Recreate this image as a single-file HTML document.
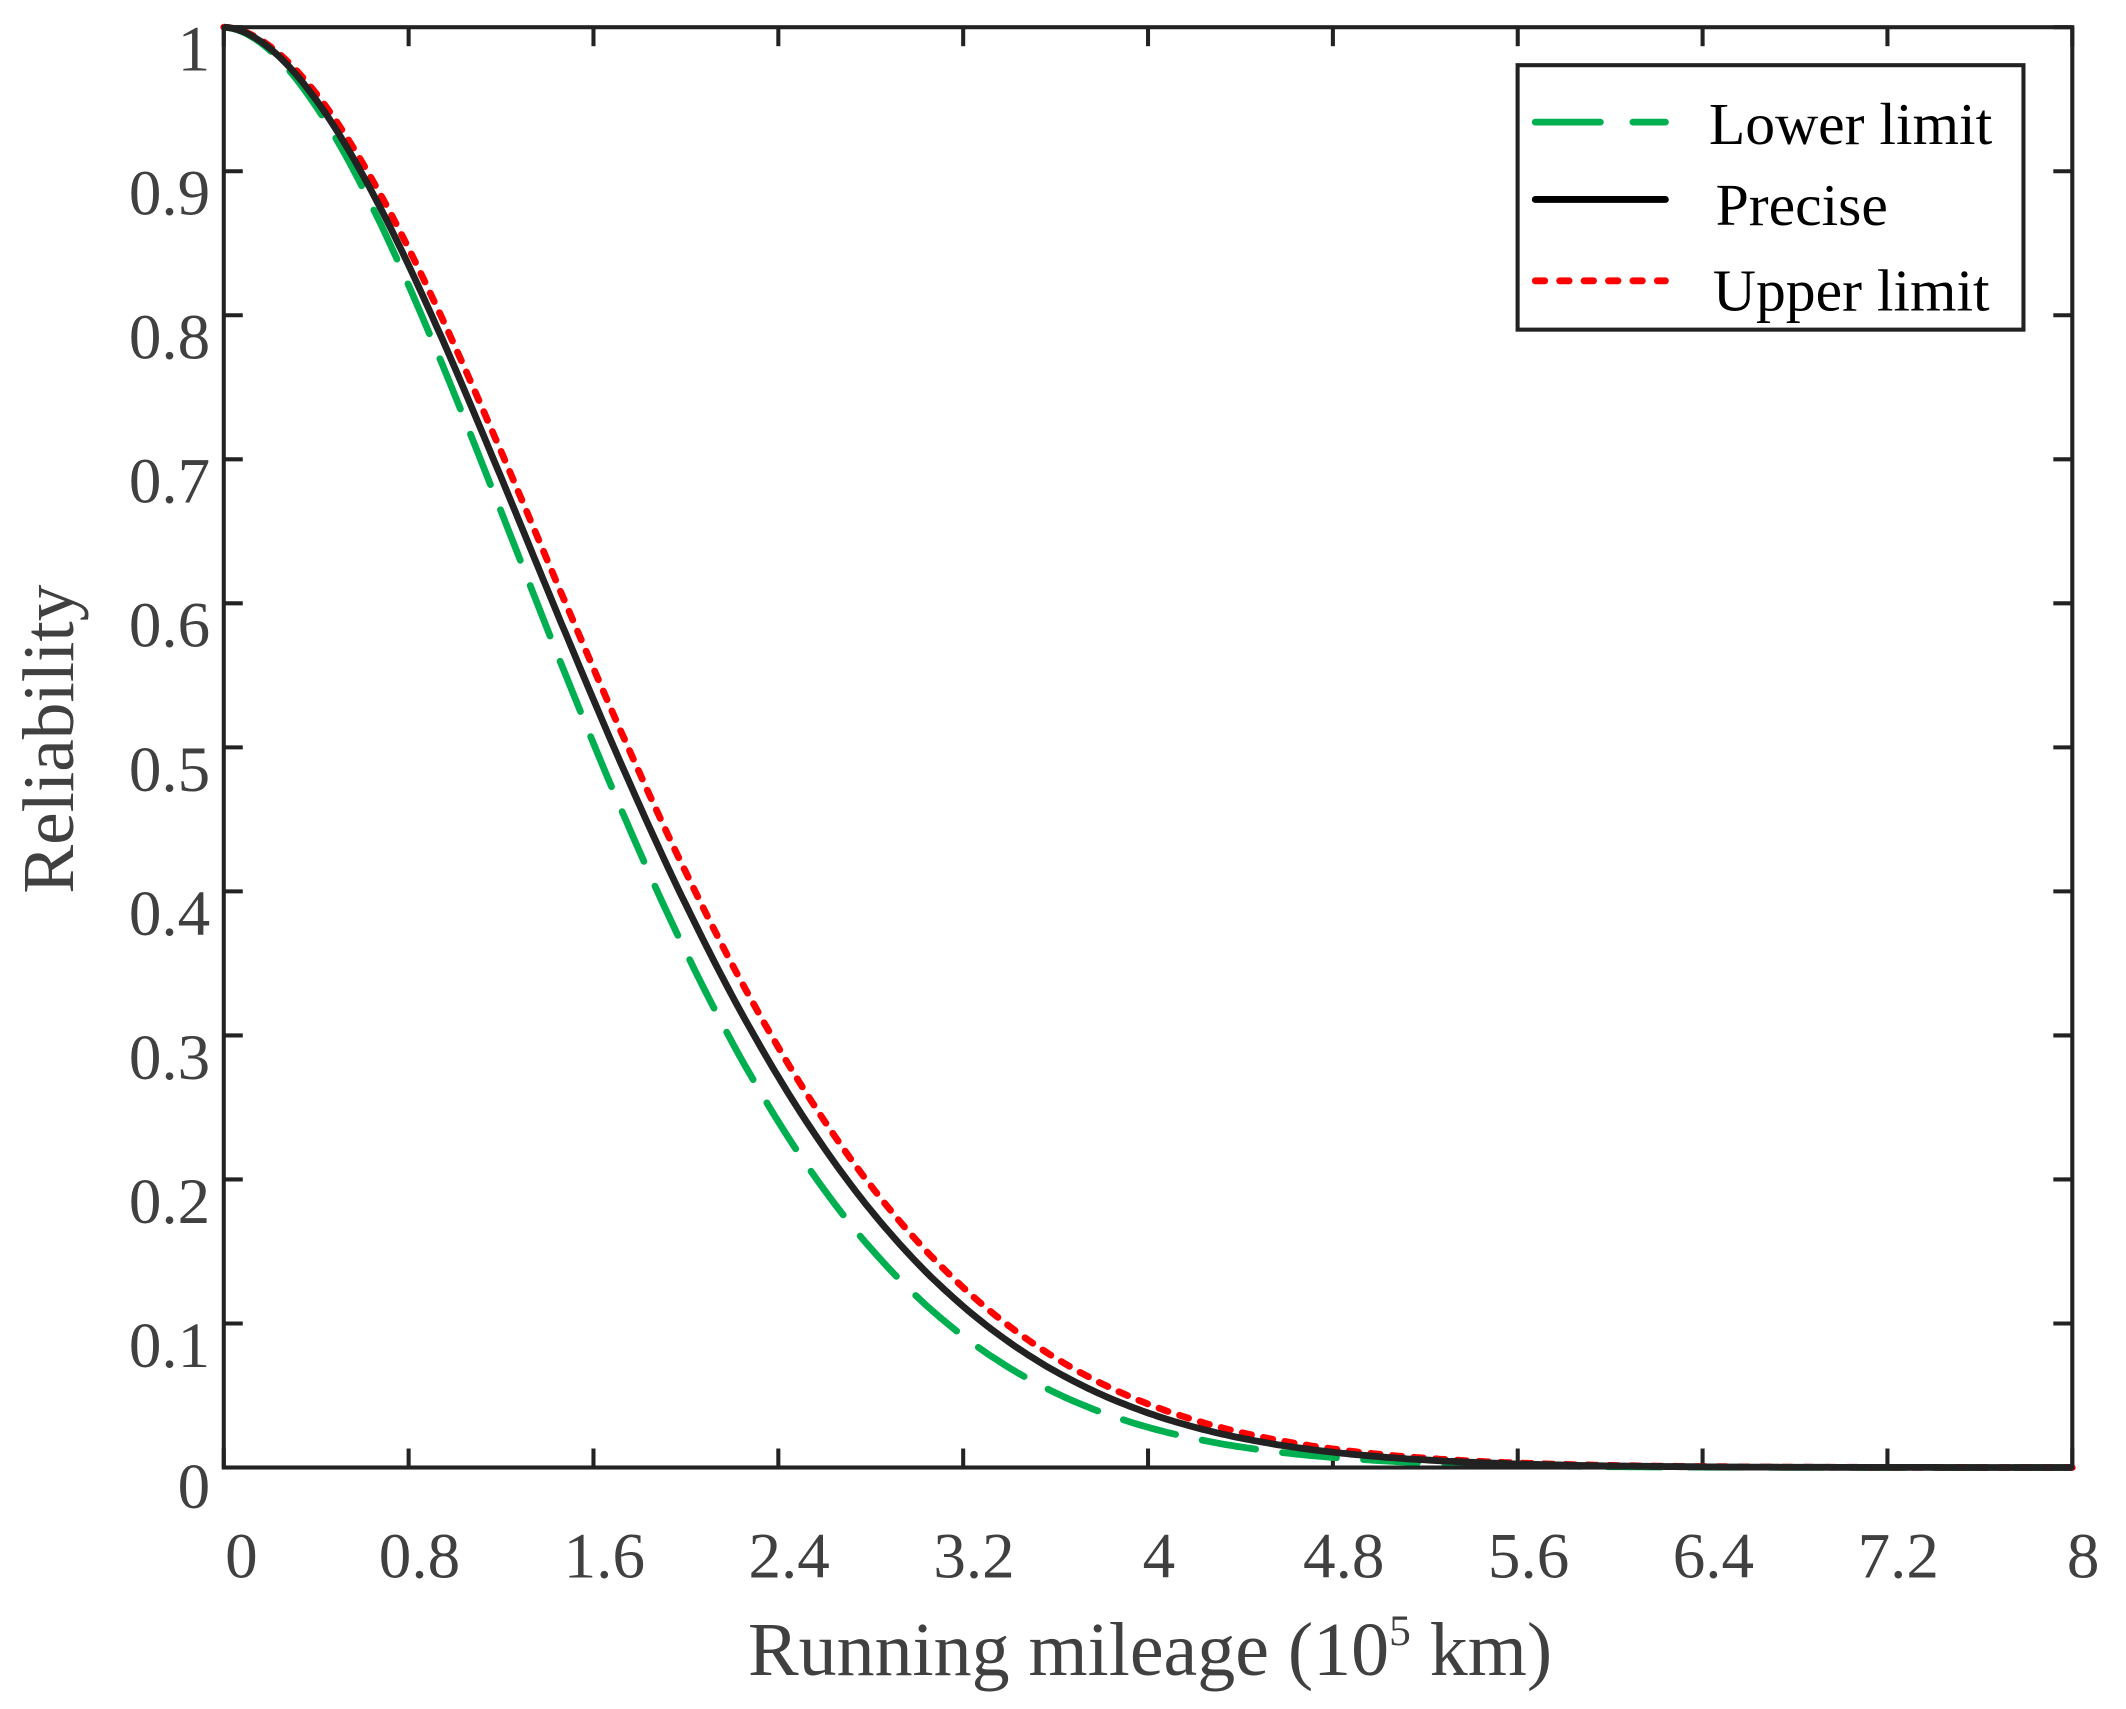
<!DOCTYPE html>
<html><head><meta charset="utf-8"><style>
html,body{margin:0;padding:0;background:#fff;}
svg{display:block;}
text{font-family:"Liberation Serif",serif;}
</style></head><body>
<svg id="s" width="2126" height="1709" viewBox="0 0 1567.6 1260" xmlns="http://www.w3.org/2000/svg">
<rect width="1567.6" height="1260" fill="#fff"/>
<g id="ticks" stroke="#222" stroke-width="3"></g>
<path id="lo" fill="none" stroke="#00b050" stroke-width="5" stroke-dasharray="40 20" stroke-linecap="round"/>
<path id="up" fill="none" stroke="#ff0000" stroke-width="5" stroke-dasharray="7 9" stroke-linecap="round"/>
<path id="pr" fill="none" stroke="#222" stroke-width="5"/>
<rect x="165" y="20" width="1363" height="1062" fill="none" stroke="#222" stroke-width="3"/>
<g id="lab" fill="#404040" font-size="48"></g>
<text x="848" y="1235" font-size="56" fill="#404040" text-anchor="middle">Running mileage (10<tspan font-size="32" dy="-22">5</tspan><tspan dy="22"> km)</tspan></text>
<text transform="translate(54,545) rotate(-90)" font-size="54" fill="#404040" text-anchor="middle">Reliability</text>
<rect x="1119" y="48" width="373" height="195" fill="#fff" stroke="#222" stroke-width="3"/>
<line x1="1132" y1="90" x2="1228" y2="90" stroke="#00b050" stroke-width="5" stroke-dasharray="48 24" stroke-linecap="round"/>
<line x1="1132" y1="147" x2="1228" y2="147" stroke="#000" stroke-width="5" stroke-linecap="round"/>
<line x1="1132" y1="207" x2="1228" y2="207" stroke="#ff0000" stroke-width="5" stroke-dasharray="7 11" stroke-linecap="round"/>
<text x="1260" y="106" font-size="44" fill="#000">Lower limit</text>
<text x="1265" y="166" font-size="44" fill="#000">Precise</text>
<text x="1263" y="229" font-size="44" fill="#000">Upper limit</text>
</svg>
<script>
var L=165,R=1528,T=20,B=1082;
function X(v){return L+(R-L)*v/8;}function Y(v){return B-(B-T)*v;}
var tk=document.getElementById('ticks'),lab=document.getElementById('lab'),ns="http://www.w3.org/2000/svg";
function el(p,n,a,t){var e=document.createElementNS(ns,n);for(var k in a)e.setAttribute(k,a[k]);if(t!=null)e.textContent=t;p.appendChild(e);}
var xl=["0","0.8","1.6","2.4","3.2","4","4.8","5.6","6.4","7.2","8"];
for(var i=0;i<=10;i++){var x=X(i*0.8);
 el(tk,'line',{x1:x,y1:B,x2:x,y2:B-14});el(tk,'line',{x1:x,y1:T,x2:x,y2:T+14});
 el(lab,'text',{x:i==0?178:x+8,y:1163,'text-anchor':'middle'},xl[i]);
 var y=Y(i/10);
 el(tk,'line',{x1:L,y1:y,x2:L+14,y2:y});el(tk,'line',{x1:R,y1:y,x2:R-14,y2:y});
 el(lab,'text',{x:155,y:y+(i==0?30:32),'text-anchor':'end'},i==0?"0":i==10?"1":(i/10).toFixed(1));
}
function path(eta,b){var d="";for(var t=0;t<=8.0001;t+=0.02){var r=Math.exp(-Math.pow(t/eta,b));d+=(t==0?"M":"L")+X(t).toFixed(1)+","+Y(r).toFixed(1);}return d;}
document.getElementById('pr').setAttribute('d',path(2.07,1.8));
document.getElementById('lo').setAttribute('d',path(1.97,1.8));
document.getElementById('up').setAttribute('d',path(2.14,1.82));
</script>
</body></html>
